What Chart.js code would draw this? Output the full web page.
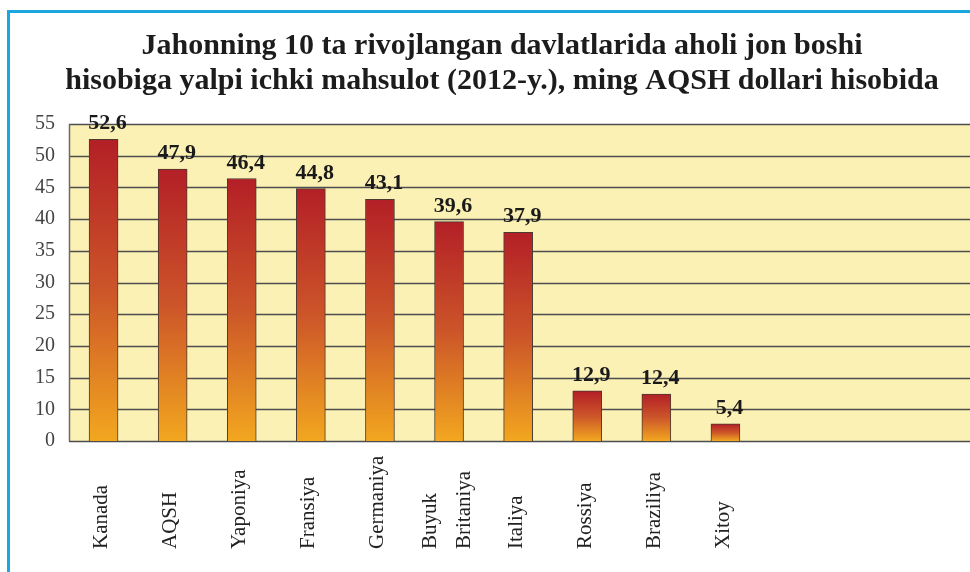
<!DOCTYPE html>
<html>
<head>
<meta charset="utf-8">
<script src="https://cdn.jsdelivr.net/npm/chart.js@4.4.1/dist/chart.umd.min.js"></script>
<style>
  html, body { margin: 0; padding: 0; background: #fff; }
  #wrap { width: 970px; height: 572px; position: relative; }
</style>
</head>
<body>
<div id="wrap"><canvas id="barchart" width="970" height="572"></canvas></div>
<script>
const countries = ['Kanada', 'AQSH', 'Yaponiya', 'Fransiya', 'Germaniya', ['Buyuk', 'Britaniya'], 'Italiya', 'Rossiya', 'Braziliya', 'Xitoy'];
const gdp = [52.6, 47.9, 46.4, 44.8, 43.1, 39.6, 37.9, 12.9, 12.4, 5.4];
const yTicks = [0, 10, 15, 20, 25, 30, 35, 40, 45, 50, 55];

// the axis jumps from 0 straight to 10 in one step, then goes by 5
const squeeze = v => v < 10 ? v / 2 : v - 5;
const unsqueeze = t => t < 5 ? t * 2 : t + 5;

class GapScale extends Chart.LinearScale {
    buildTicks() {
        return yTicks.map(v => ({ value: v }));
    }
    getPixelForValue(v) {
        const lo = squeeze(this.min), hi = squeeze(this.max);
        return this.getPixelForDecimal((squeeze(v) - lo) / (hi - lo));
    }
    getValueForPixel(p) {
        const lo = squeeze(this.min), hi = squeeze(this.max);
        return unsqueeze(lo + this.getDecimalForPixel(p) * (hi - lo));
    }
}
GapScale.id = 'gap';
GapScale.defaults = Chart.LinearScale.defaults;
Chart.register(GapScale);

const serif = '"Liberation Serif", "Times New Roman", serif';

const backdrop = {
    id: 'backdrop',
    beforeDraw(chart) {
        const c = chart.ctx;
        c.save();
        c.fillStyle = '#1ba6e0';
        c.fillRect(7, 10, 3, chart.height - 10);
        c.fillRect(7, 10, chart.width - 7, 3);
        c.restore();
    },
    beforeDatasetsDraw(chart) {
        const c = chart.ctx;
        const area = chart.chartArea;
        const y = chart.scales.y;
        const right = chart.width;
        c.save();
        c.fillStyle = '#fcf1b4';
        c.fillRect(area.left, area.top, right - area.left, area.bottom - area.top);
        c.strokeStyle = '#4d4d4d';
        c.lineWidth = 1.5;
        y.ticks.forEach((t, i) => {
            const py = Math.round(y.getPixelForTick(i)) + 0.5;
            c.beginPath();
            c.moveTo(area.left, py);
            c.lineTo(right, py);
            c.stroke();
        });
        c.strokeStyle = '#6a6a6a';
        c.beginPath();
        c.moveTo(area.left + 0.5, area.top);
        c.lineTo(area.left + 0.5, area.bottom);
        c.stroke();
        c.restore();
    },
    afterDatasetsDraw(chart) {
        const c = chart.ctx;
        const meta = chart.getDatasetMeta(0);
        c.save();
        c.fillStyle = '#1a1a1a';
        c.font = 'bold 22px ' + serif;
        c.textAlign = 'center';
        c.textBaseline = 'alphabetic';
        meta.data.forEach((bar, i) => {
            c.fillText(gdp[i].toFixed(1).replace('.', ','), bar.x + 4, bar.y - 10);
        });
        // x labels, rotated, all starting from the same bottom line
        c.fillStyle = '#222';
        c.font = '21px ' + serif;
        c.textAlign = 'left';
        c.textBaseline = 'middle';
        const x = chart.scales.x;
        countries.forEach((name, i) => {
            const lines = Array.isArray(name) ? name : [name];
            const px = x.getPixelForTick(i);
            lines.forEach((line, j) => {
                const off = (j - (lines.length - 1) / 2) * 34;
                c.save();
                c.translate(px + off - 2, 549);
                c.rotate(-Math.PI / 2);
                c.fillText(line, 0, 0);
                c.restore();
            });
        });
        c.restore();
    }
};

const ctx = document.getElementById('barchart').getContext('2d');

new Chart(ctx, {
    type: 'bar',
    data: {
        labels: countries,
        datasets: [{
            data: gdp,
            backgroundColor: function(context) {
                const chart = context.chart;
                if (!chart.chartArea) return '#cc5a2a';
                const y = chart.scales.y;
                const top = y.getPixelForValue(gdp[context.dataIndex]);
                const bottom = y.getPixelForValue(0);
                const g = chart.ctx.createLinearGradient(0, top, 0, bottom);
                g.addColorStop(0, '#b31f26');
                g.addColorStop(0.5, '#cc5529');
                g.addColorStop(1, '#f2a71f');
                return g;
            },
            borderColor: '#4a3a30',
            borderWidth: 1,
            barThickness: 29
        }]
    },
    options: {
        responsive: false,
        animation: false,
        layout: {
            padding: { left: 34, right: 0, top: 0, bottom: 0 }
        },
        plugins: {
            legend: { display: false },
            tooltip: { enabled: false },
            title: {
                display: true,
                text: ['Jahonning 10 ta rivojlangan davlatlarida aholi jon boshi',
                       'hisobiga yalpi ichki mahsulot (2012-y.), ming AQSH dollari hisobida'],
                color: '#1c1c1c',
                font: { family: serif, size: 30, weight: 'bold', lineHeight: 1.15 },
                padding: { top: 29, bottom: 26 }
            }
        },
        scales: {
            x: {
                offset: true,
                grid: { display: false },
                border: { display: false },
                ticks: { display: false },
                afterFit: function(scale) {
                    scale.height = 131;
                }
            },
            y: {
                type: 'gap',
                min: 0,
                max: 55,
                grid: { display: false },
                border: { display: false },
                ticks: {
                    color: '#444',
                    padding: 6,
                    font: { family: serif, size: 20 },
                    callback: function(value) {
                        return String(value);
                    }
                },
                afterFit: function(scale) {
                    scale.width = 35;
                }
            },
            // empty space on the right: the plot keeps going past the last bar
            spare: {
                position: 'right',
                grid: { display: false },
                border: { display: false },
                ticks: { display: false },
                afterFit: function(scale) {
                    scale.width = 210;
                }
            }
        }
    },
    plugins: [backdrop]
});
</script>
</body>
</html>
